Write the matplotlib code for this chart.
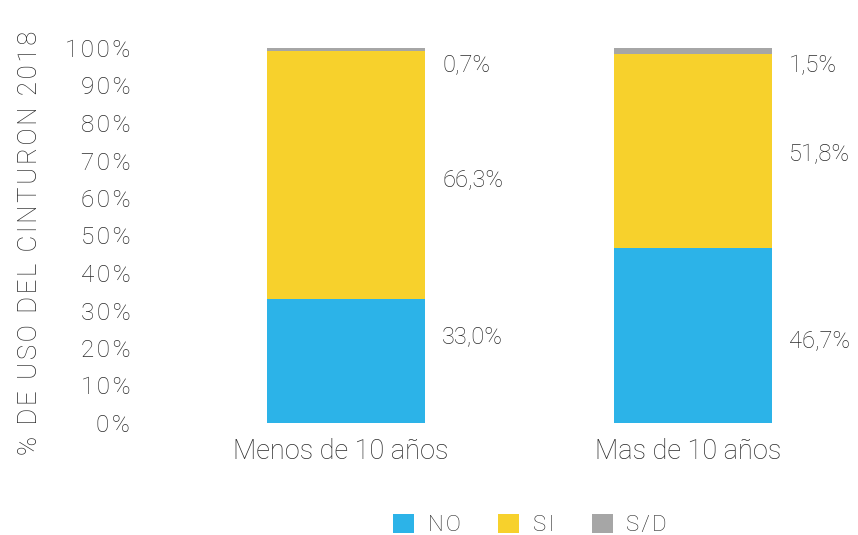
import matplotlib.pyplot as plt
import matplotlib.transforms as mtransforms
import numpy as np

plt.rcParams['font.family'] = ['Roboto', 'DejaVu Sans']

categories = ['Menos de 10 años', 'Mas de 10 años']
no_vals = [33.0, 46.7]
si_vals = [66.3, 51.8]
sd_vals = [0.7, 1.5]
series_names = ['NO', 'SI', 'S/D']
colors = ['#2cb3e8', '#f7d12c', '#a6a6a6']
text_col = '#2a2a2a'

# vertical placement of the value labels (layout only)
label_y = [[23, 64.8, 95.7], [22, 71.5, 95.2]]


def track(s, sp='\u200a'):
    # fake letter spacing
    return sp.join(s)


fig = plt.figure(figsize=(8.58, 5.35), dpi=100)
ax = fig.add_axes([140 / 858, 1 - 423 / 535, 718 / 858, 375 / 535])

x = np.arange(len(categories))
w = 0.455
bottom = np.zeros(len(categories))
bars = []
for vals, c, name in zip([no_vals, si_vals, sd_vals], colors, series_names):
    b = ax.bar(x, vals, w, bottom=bottom, color=c, label=name)
    bars.append(b)
    bottom += np.array(vals)

for i in range(len(categories)):
    for j, vals in enumerate([no_vals, si_vals, sd_vals]):
        ax.text(x[i] + w / 2 + 0.05, label_y[i][j],
                f'{vals[i]:.1f}%'.replace('.', ','), fontsize=17,
                color=text_col, va='center', ha='left', fontweight='light')

ax.set_xlim(-0.594, 1.476)
ax.set_ylim(0, 100)
ax.set_yticks(np.arange(0, 101, 10))
ax.set_yticklabels([track(f'{v}%') for v in range(0, 101, 10)], fontsize=17.5,
                   color=text_col, fontweight='light')
ax.set_xticks(x)
ax.set_xticklabels(categories, fontsize=19.5, color=text_col,
                   fontweight='light')
ax.tick_params(length=0, pad=7)
ax.tick_params(axis='x', pad=11)
shift = mtransforms.ScaledTranslation(-5 / 100, 0, fig.dpi_scale_trans)
for lab in ax.get_xticklabels():
    lab.set_transform(lab.get_transform() + shift)
for s in ax.spines.values():
    s.set_visible(False)

fig.text(30 / 858, 1 - 243 / 535, track('% DE USO DEL CINTURON 2018'),
         rotation=90, fontsize=18.5, color=text_col, ha='center', va='center',
         fontweight='light')

leg = fig.legend(handles=bars, labels=[track(n) for n in series_names],
                 loc='center', bbox_to_anchor=(530 / 858, 1 - 525 / 535),
                 ncol=3, frameon=False, fontsize=16, handlelength=0.95,
                 handleheight=0.95, handletextpad=0.6, columnspacing=1.7)
for t in leg.get_texts():
    t.set_color(text_col)
    t.set_fontweight('light')

fig.savefig('out.png', dpi=100)
